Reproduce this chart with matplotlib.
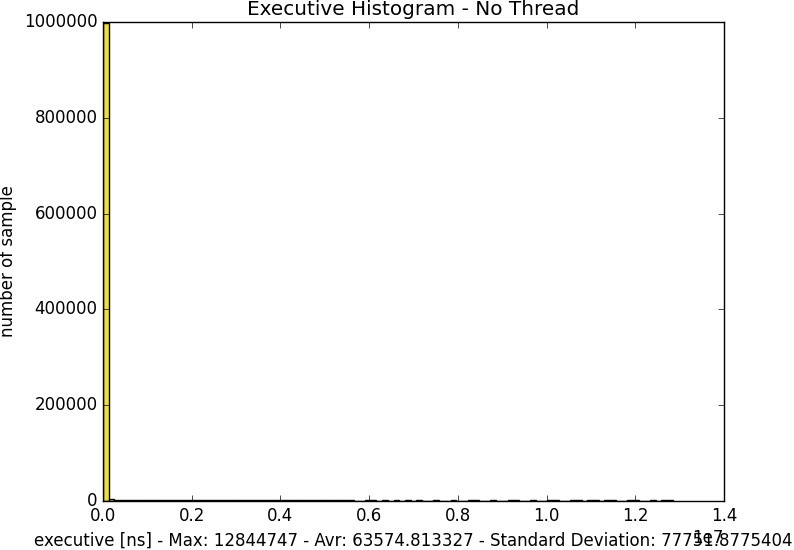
import numpy as np
import matplotlib
matplotlib.use("Agg")
import matplotlib.pyplot as plt

# histogram data (100 bins between min and max of the samples)
t_min = 0
t_max = 12844747
n_bins = 100
counts = [998500, 4300, 2600, 2400, 2300, 2200, 2100, 2000, 2000, 1900,
          1900, 1900, 1800, 1800, 1800, 1800, 1700, 1700, 1700, 1700,
          1700, 1700, 1600, 1600, 1600, 1600, 1600, 1600, 1600, 1600,
          1600, 1600, 1600, 1500, 1500, 1500, 1500, 1500, 1500, 1500,
          1500, 1500, 1500, 1500, 0, 0, 1500, 1500, 0, 1500,
          0, 1500, 0, 1500, 0, 1500, 0, 0, 1500, 0,
          0, 1500, 0, 0, 1500, 1500, 0, 0, 1500, 0,
          0, 1500, 1500, 0, 0, 1500, 0, 0, 1500, 1500,
          0, 0, 1500, 1500, 0, 1500, 1500, 0, 1500, 1500,
          0, 0, 1500, 1500, 0, 0, 1500, 0, 1500, 1500]

t_avr = "63574.813327"
t_std = "77751.8775404"

edges = np.linspace(t_min, t_max, n_bins + 1)

plt.style.use("classic")
fig = plt.figure(figsize=(7.94, 5.5), dpi=100)
ax = fig.add_axes([0.1297, 0.0891, 0.7821, 0.8709])

ax.hist(edges[:-1], bins=edges, weights=counts, color="#f2e03a", edgecolor="k")

ax.set_xlim(0, 1.4e7)
ax.set_ylim(0, 1000000)
ax.set_title("Executive Histogram - No Thread")
ax.set_ylabel("number of sample")
ax.set_xlabel("executive [ns] - Max: " + str(t_max) + " - Avr: " + t_avr
              + " - Standard Deviation: " + t_std)

fig.savefig("out.png", dpi=100)
